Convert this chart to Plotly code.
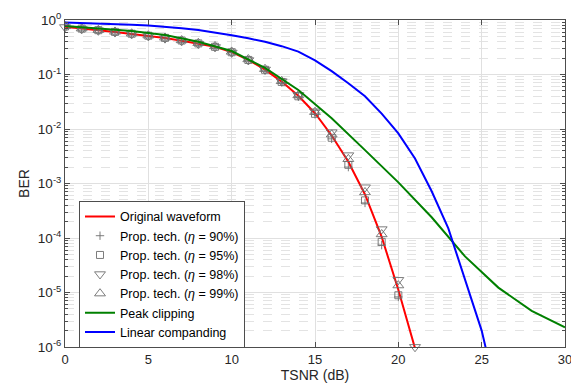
import plotly.graph_objects as go

# ---------------- data ----------------
snr_db = list(range(0, 22))
ber_original = [0.753, 0.692, 0.646, 0.603, 0.556, 0.513, 0.468, 0.417, 0.372, 0.324, 0.257,
                0.186, 0.123, 0.0741, 0.0407, 0.0195, 0.0076, 0.0025, 6.3e-4, 1.05e-4, 1.12e-5, 9.5e-7]

snr_marker = list(range(0, 21))
ber_eta90 = [0.76, 0.69, 0.645, 0.60, 0.555, 0.51, 0.465, 0.415, 0.368, 0.32, 0.253,
             0.182, 0.12, 0.072, 0.039, 0.0186, 0.0066, 0.0020, 4.4e-4, 7.4e-5, 8.3e-6]
ber_eta95 = [0.76, 0.695, 0.65, 0.605, 0.56, 0.515, 0.47, 0.42, 0.372, 0.322, 0.256,
             0.185, 0.122, 0.073, 0.0398, 0.019, 0.0069, 0.0022, 4.9e-4, 8.5e-5, 8.9e-6]
snr_eta98 = list(range(0, 22))
ber_eta98 = [0.74, 0.68, 0.64, 0.595, 0.55, 0.505, 0.46, 0.41, 0.365, 0.318, 0.252,
             0.183, 0.123, 0.075, 0.042, 0.021, 0.0087, 0.0033, 8.5e-4, 1.45e-4, 1.7e-5, 1.0e-6]
ber_eta99 = [0.77, 0.70, 0.655, 0.61, 0.565, 0.52, 0.475, 0.425, 0.378, 0.33, 0.262,
             0.19, 0.126, 0.0755, 0.0415, 0.0205, 0.0079, 0.0028, 6.9e-4, 1.17e-4, 1.35e-5]

snr_clip = [0, 2, 4, 6, 8, 10, 12, 14, 16, 18, 20, 22, 24, 26, 28, 30]
ber_clip = [0.776, 0.70, 0.625, 0.53, 0.40, 0.27, 0.132, 0.052, 0.0158, 0.0041, 0.00105,
            2.4e-4, 4.6e-5, 1.23e-5, 4.6e-6, 2.3e-6]

snr_comp = list(range(0, 27))
ber_comp = [0.902, 0.887, 0.871, 0.851, 0.822, 0.794, 0.759, 0.708, 0.653, 0.589, 0.525,
            0.462, 0.398, 0.331, 0.263, 0.182, 0.115, 0.0692, 0.0398, 0.0191, 0.00832,
            0.00288, 7.2e-4, 1.5e-4, 1.8e-5, 2.0e-6, 1.0e-7]

x_ticks = [0, 5, 10, 15, 20, 25, 30]
y_ticks = [1e-6, 1e-5, 1e-4, 1e-3, 1e-2, 1e-1, 1]
y_ticktext = ["10<sup>-6</sup>", "10<sup>-5</sup>", "10<sup>-4</sup>", "10<sup>-3</sup>",
              "10<sup>-2</sup>", "10<sup>-1</sup>", "10<sup>0</sup>"]
y_minor = [m * 10.0 ** e for e in range(-6, 0) for m in range(2, 10)]

# ---------------- figure ----------------
FONT = "Liberation Sans, Arial, sans-serif"
MK = "#6e6e6e"

fig = go.Figure()
fig.add_trace(go.Scatter(x=snr_db, y=ber_original, mode="lines", name="Original waveform",
                         line=dict(color="#ff0000", width=2)))
fig.add_trace(go.Scatter(x=snr_marker, y=ber_eta90, mode="markers",
                         name="Prop. tech. (<i>η</i> = 90%)",
                         marker=dict(symbol="cross-thin", size=6, color=MK,
                                     line=dict(color=MK, width=0.9))))
fig.add_trace(go.Scatter(x=snr_marker, y=ber_eta95, mode="markers",
                         name="Prop. tech. (<i>η</i> = 95%)",
                         marker=dict(symbol="square-open", size=7, color=MK,
                                     line=dict(color=MK, width=0.9))))
fig.add_trace(go.Scatter(x=snr_eta98, y=ber_eta98, mode="markers",
                         name="Prop. tech. (<i>η</i> = 98%)", cliponaxis=False,
                         marker=dict(symbol="triangle-down-open", size=9.5, color=MK,
                                     line=dict(color=MK, width=0.9))))
fig.add_trace(go.Scatter(x=snr_marker, y=ber_eta99, mode="markers",
                         name="Prop. tech. (<i>η</i> = 99%)",
                         marker=dict(symbol="triangle-up-open", size=9.5, color=MK,
                                     line=dict(color=MK, width=0.9))))
fig.add_trace(go.Scatter(x=snr_clip, y=ber_clip, mode="lines", name="Peak clipping",
                         line=dict(color="#008000", width=2)))
fig.add_trace(go.Scatter(x=snr_comp, y=ber_comp, mode="lines", name="Linear companding",
                         line=dict(color="#0000ff", width=2)))

axis_common = dict(showline=True, linecolor="#4d4d4d", linewidth=1, mirror="allticks",
                   ticks="inside", ticklen=5, tickcolor="#4d4d4d", zeroline=False,
                   ticklabeloverflow="allow", automargin=False,
                   showgrid=True, gridcolor="#e0e0e0", gridwidth=1)

fig.update_xaxes(range=[0, 30], tickvals=x_ticks,
                 tickfont=dict(family=FONT, size=13, color="#262626"),
                 title=dict(text="TSNR (dB)", font=dict(family=FONT, size=14, color="#262626"),
                            standoff=3),
                 **axis_common)
fig.update_yaxes(type="log", range=[-6, 0], tickvals=y_ticks, ticktext=y_ticktext,
                 tickfont=dict(family=FONT, size=13.5, color="#262626"),
                 title=dict(text="BER", font=dict(family=FONT, size=14, color="#262626"),
                            standoff=4),
                 minor=dict(tickmode="array", tickvals=y_minor, ticks="inside", ticklen=3,
                            tickcolor="#4d4d4d", showgrid=True, gridcolor="#e3e3e3",
                            griddash="dash", gridwidth=1),
                 **axis_common)

fig.update_layout(
    width=571, height=391,
    margin=dict(l=65, r=6, t=20, b=44),
    paper_bgcolor="white", plot_bgcolor="white",
    font=dict(family=FONT, size=12, color="#262626"),
    showlegend=True,
    legend=dict(x=0.028, y=0.447, xanchor="left", yanchor="top",
                bgcolor="white", bordercolor="#4d4d4d", borderwidth=1,
                font=dict(family=FONT, size=12.5, color="#000000"),
                tracegroupgap=0, itemwidth=30),
)

fig.write_html("out.html")
